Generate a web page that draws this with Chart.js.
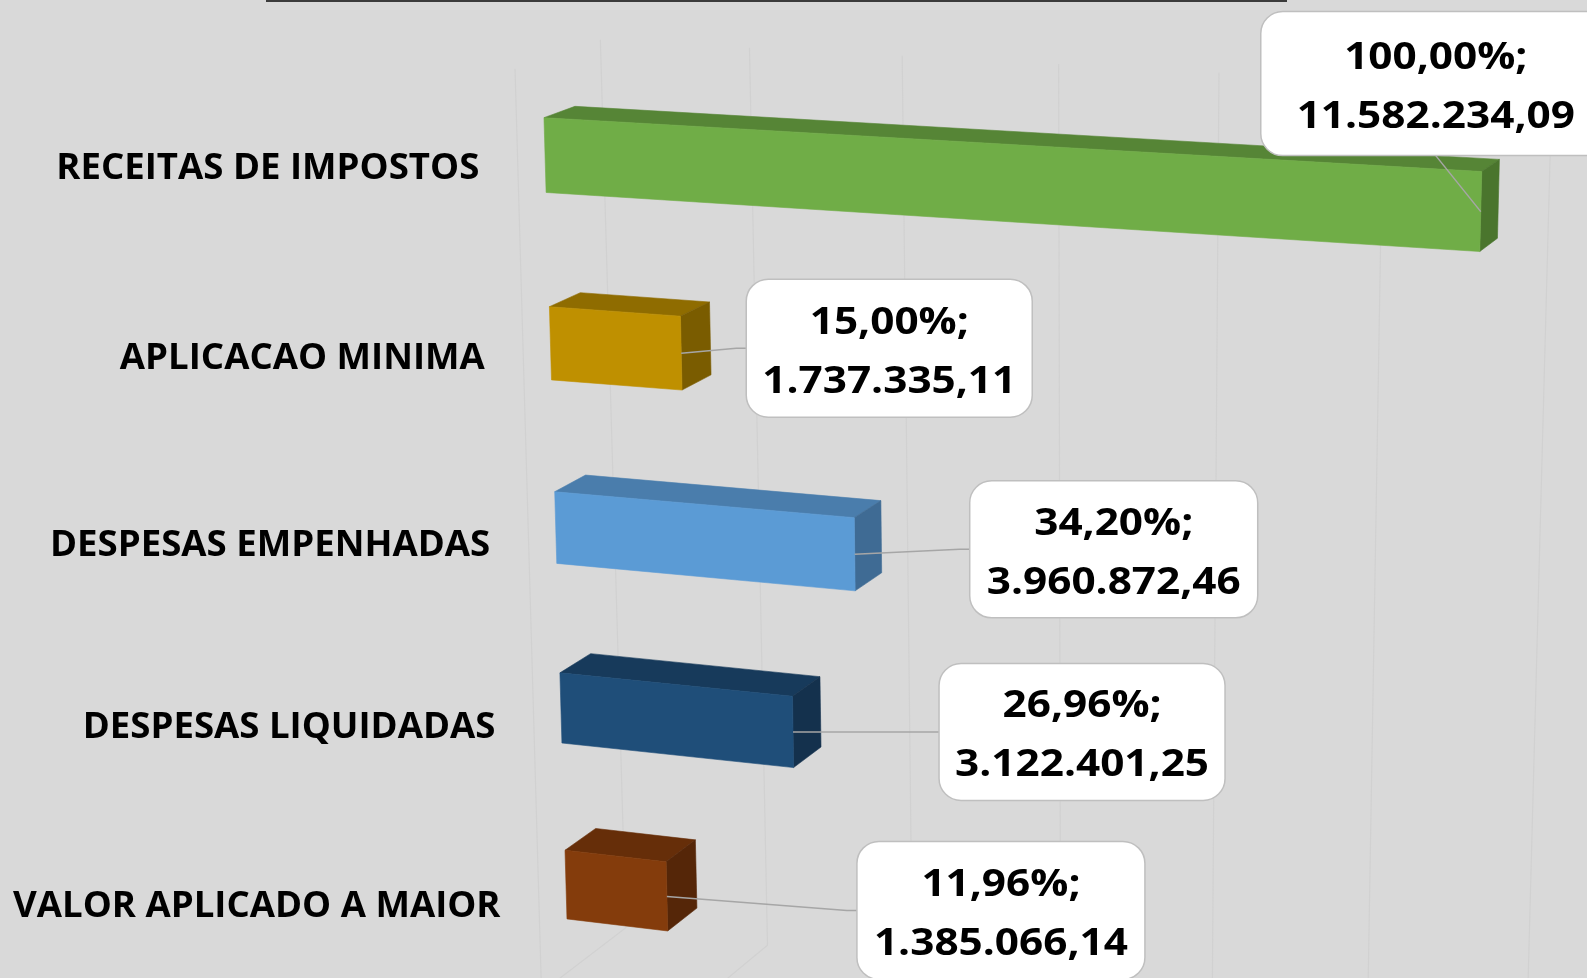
<!DOCTYPE html>
<html><head><meta charset="utf-8">
<script src="https://cdn.jsdelivr.net/npm/chart.js@4.4.1/dist/chart.umd.min.js"></script>
<style>
html,body{margin:0;padding:0;background:#D9D9D9;overflow:hidden}
#wrap{position:relative;width:1587px;height:978px}
#topline{position:absolute;left:266px;top:0;width:1021px;height:2px;background:#3B3B3B}
canvas{position:absolute;left:0;top:0}
</style></head><body>
<div id="wrap"><canvas id="c" width="1587" height="978"></canvas><div id="topline"></div></div>
<script>
// ---------- data ----------
const categories = ["RECEITAS DE IMPOSTOS", "APLICACAO MINIMA", "DESPESAS EMPENHADAS", "DESPESAS LIQUIDADAS", "VALOR APLICADO A MAIOR"];
const values = [11582234.09, 1737335.11, 3960872.46, 3122401.25, 1385066.14];
const axisTicks = [0, 2000000, 4000000, 6000000, 8000000, 10000000, 12000000];

// ---------- styles ----------
const frontColors = ["#70AD47", "#BF9000", "#5B9BD5", "#1F4E79", "#843C0C"];
const topColors   = ["#568536", "#8F6C00", "#4A7DAC", "#173A5B", "#662E09"];
const sideColors  = ["#4A752D", "#7A5C00", "#3F6B94", "#14314D", "#552608"];
const labelOffsets = [[-45,-128],[208,-5],[259,-5],[289,0],[334,14]];
const labelBoxW = [350, 286, 288, 286, 288];
const labelBoxH = [144, 138, 137, 137, 138];

// perspective view: front plane quad for (u,v) unit square, depth vanishing point
const VIEW = {
  quad: [[542.3,59.5],[1519.8,111.2],[1493.8,1086.1],[568.5,971.6]],
  depthVP: [2725,-682],
  barDepth: 0.0142,
  wallDepth: 0.0266,
  floorFront: -0.0125
};

function makeH(q){
  const [x0,y0]=q[0],[x1,y1]=q[1],[x2,y2]=q[2],[x3,y3]=q[3];
  const dx1=x1-x2, dx2=x3-x2, dx3=x0-x1+x2-x3, dy1=y1-y2, dy2=y3-y2, dy3=y0-y1+y2-y3;
  const den=dx1*dy2-dx2*dy1;
  const g=(dx3*dy2-dx2*dy3)/den, h=(dx1*dy3-dx3*dy1)/den;
  const a=x1-x0+g*x1, b=x3-x0+h*x3, c=x0, d=y1-y0+g*y1, e=y3-y0+h*y3, f=y0;
  return (u,v)=>{const w=g*u+h*v+1; return [(a*u+b*v+c)/w,(d*u+e*v+f)/w];};
}
const H = makeH(VIEW.quad);

function fmtNum(v){
  const s = v.toFixed(2); const [ip, dp] = s.split('.');
  return ip.replace(/\B(?=(\d{3})+(?!\d))/g, '.') + ',' + dp;
}
function fmtPct(p){ return p.toFixed(2).replace('.', ',') + '%;'; }

const CAT_FONT = 'bold 36px "Open Sans", Lato, sans-serif';
const NUM_FONT = 'bold 38px "Open Sans", Lato, sans-serif';

function scaledText(ctx, text, x, y, font, sx, align){
  ctx.save(); ctx.font = font; ctx.textAlign = align; ctx.textBaseline = 'alphabetic';
  ctx.translate(x, y); ctx.scale(sx, 1); ctx.fillText(text, 0, 0); ctx.restore();
}
function roundRect(ctx, x, y, w, h, r){
  ctx.beginPath(); ctx.moveTo(x+r,y); ctx.lineTo(x+w-r,y); ctx.arcTo(x+w,y,x+w,y+r,r);
  ctx.lineTo(x+w,y+h-r); ctx.arcTo(x+w,y+h,x+w-r,y+h,r); ctx.lineTo(x+r,y+h);
  ctx.arcTo(x,y+h,x,y+h-r,r); ctx.lineTo(x,y+r); ctx.arcTo(x,y,x+r,y,r); ctx.closePath();
}
function poly(ctx, pts, color){
  ctx.beginPath(); ctx.moveTo(pts[0][0], pts[0][1]);
  for (let i=1;i<pts.length;i++) ctx.lineTo(pts[i][0], pts[i][1]);
  ctx.closePath(); ctx.fillStyle = color; ctx.fill();
  ctx.strokeStyle = color; ctx.lineWidth = 0.6; ctx.stroke();
}

const bar3d = {
  id: 'bar3d',
  beforeDatasetsDraw(chart){
    const ctx = chart.ctx, ca = chart.chartArea, xs = chart.scales.x;
    const VP = VIEW.depthVP;
    const P = (px, py, depth) => {
      const u = (px - ca.left)/(ca.right - ca.left), v = (py - ca.top)/(ca.bottom - ca.top);
      let [X, Y] = H(u, v);
      if (depth){ X += depth*(VP[0]-X); Y += depth*(VP[1]-Y); }
      return [X, Y];
    };
    // walls / gridlines
    ctx.save();
    ctx.strokeStyle = '#D1D1D1'; ctx.lineWidth = 1.2;
    axisTicks.forEach(t => {
      const px = xs.getPixelForValue(t);
      const a = P(px, ca.top, VIEW.wallDepth), b = P(px, ca.bottom, VIEW.wallDepth), c = P(px, ca.bottom, VIEW.floorFront);
      ctx.beginPath(); ctx.moveTo(a[0],a[1]); ctx.lineTo(b[0],b[1]); ctx.lineTo(c[0],c[1]); ctx.stroke();
    });
    const x0 = xs.getPixelForValue(0);
    const s1 = P(x0, ca.top, VIEW.floorFront), s2 = P(x0, ca.bottom, VIEW.floorFront);
    ctx.beginPath(); ctx.moveTo(s1[0],s1[1]); ctx.lineTo(s2[0],s2[1]); ctx.stroke();
    ctx.restore();

    const meta = chart.getDatasetMeta(0);
    ctx.save(); ctx.font = CAT_FONT;
    const catSx = 423 / ctx.measureText(categories[0]).width;
    ctx.font = NUM_FONT;
    const numSx = 254 / ctx.measureText(fmtNum(values[1])).width;
    ctx.restore();

    // category labels
    meta.data.forEach((el, i) => {
      const p = el.getProps(['y'], true);
      const q = P(x0, p.y, VIEW.floorFront);
      ctx.fillStyle = '#000';
      scaledText(ctx, categories[i], q[0]-38.5, q[1]+13, CAT_FONT, catSx, 'right');
    });

    // bars
    const anchors = [];
    meta.data.forEach((el, i) => {
      const p = el.getProps(['x','y','base','height'], true);
      const y0 = p.y - p.height/2, y1 = p.y + p.height/2;
      const D = VIEW.barDepth;
      const FTL = P(p.base, y0), FTR = P(p.x, y0), FBR = P(p.x, y1), FBL = P(p.base, y1);
      const BTL = P(p.base, y0, D), BTR = P(p.x, y0, D), BBR = P(p.x, y1, D);
      ctx.save();
      poly(ctx, [FTL, FTR, BTR, BTL], topColors[i]);
      poly(ctx, [FTR, BTR, BBR, FBR], sideColors[i]);
      poly(ctx, [FTL, FTR, FBR, FBL], frontColors[i]);
      ctx.restore();
      anchors.push(P(p.x, p.y));
    });

    // data labels
    const total = values[0];
    anchors.forEach((a, i) => {
      const cx = a[0] + labelOffsets[i][0], cy = a[1] + labelOffsets[i][1];
      const w = labelBoxW[i], h = labelBoxH[i];
      const bx = cx - w/2, by = cy - h/2;
      ctx.save();
      ctx.strokeStyle = '#A6A6A6'; ctx.lineWidth = 1.5;
      ctx.beginPath(); ctx.moveTo(a[0], a[1]);
      if (bx > a[0]) { ctx.lineTo(bx - 10, cy); ctx.lineTo(bx, cy); }
      else { ctx.lineTo(cx, by + h); }
      ctx.stroke();
      roundRect(ctx, bx, by, w, h, 22);
      ctx.fillStyle = '#FFFFFF'; ctx.fill();
      ctx.strokeStyle = '#BFBFBF'; ctx.lineWidth = 1.5; ctx.stroke();
      ctx.fillStyle = '#000';
      scaledText(ctx, fmtPct(values[i]/total*100), cx, cy - 14.5, NUM_FONT, numSx, 'center');
      scaledText(ctx, fmtNum(values[i]), cx, cy + 44.5, NUM_FONT, numSx, 'center');
      ctx.restore();
    });
    return false;
  }
};

new Chart(document.getElementById('c').getContext('2d'), {
  type: 'bar',
  data: { labels: categories, datasets: [{ data: values, backgroundColor: frontColors, barPercentage: 0.393, categoryPercentage: 1 }] },
  options: {
    responsive: false, animation: false, indexAxis: 'y',
    layout: { padding: 0 },
    plugins: { legend: { display: false }, tooltip: { enabled: false } },
    scales: {
      x: { min: 0, max: 12000000, display: false, ticks: { stepSize: 2000000 } },
      y: { display: false, offset: true }
    }
  },
  plugins: [bar3d]
});
</script>
</body></html>
